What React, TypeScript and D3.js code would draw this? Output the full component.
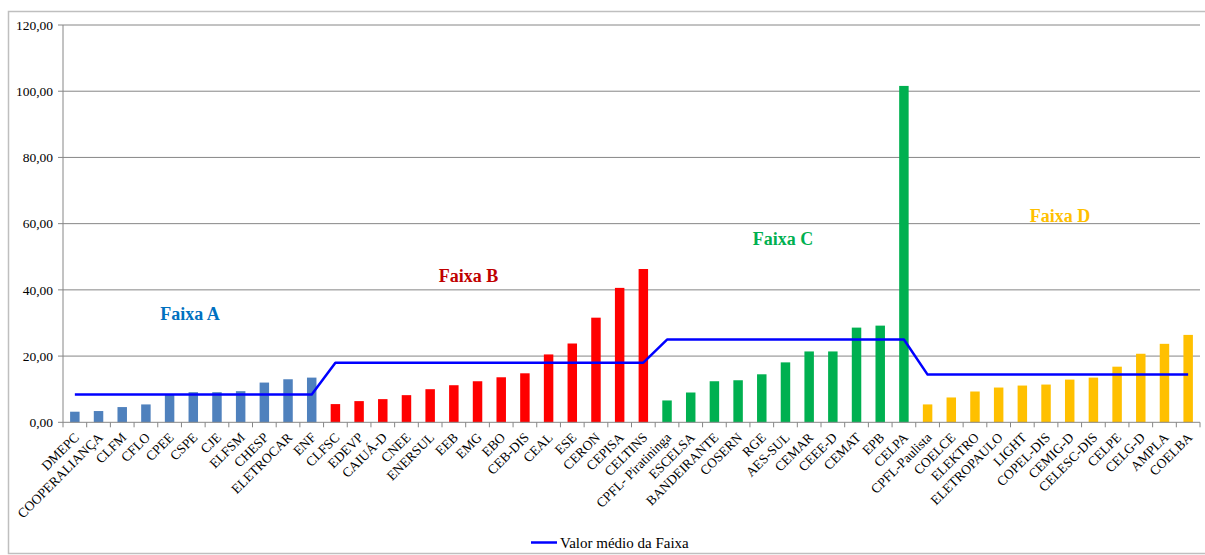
import React from "react";
import * as d3 from "d3";

// Distribuidoras por faixa
const faixaA = ["DMEPC", "COOPERALIANÇA", "CLFM", "CFLO", "CPEE", "CSPE", "CJE", "ELFSM", "CHESP", "ELETROCAR", "ENF"];
const valoresA = [3.2, 3.4, 4.6, 5.4, 8.5, 9.1, 9.1, 9.4, 12.0, 13.0, 13.5];

const faixaB = ["CLFSC", "EDEVP", "CAIUÁ-D", "CNEE", "ENERSUL", "EEB", "EMG", "EBO", "CEB-DIS", "CEAL", "ESE", "CERON", "CEPISA", "CELTINS"];
const valoresB = [5.5, 6.4, 7.0, 8.2, 10.0, 11.2, 12.4, 13.6, 14.8, 20.5, 23.8, 31.6, 40.6, 46.3];

const faixaC = ["CPFL- Piratininga", "ESCELSA", "BANDEIRANTE", "COSERN", "RGE", "AES-SUL", "CEMAR", "CEEE-D", "CEMAT", "EPB", "CELPA"];
const valoresC = [6.6, 9.0, 12.4, 12.7, 14.5, 18.1, 21.4, 21.4, 28.6, 29.2, 101.6];

const faixaD = ["CPFL-Paulista", "COELCE", "ELEKTRO", "ELETROPAULO", "LIGHT", "COPEL-DIS", "CEMIG-D", "CELESC-DIS", "CELPE", "CELG-D", "AMPLA", "COELBA"];
const valoresD = [5.4, 7.5, 9.3, 10.5, 11.1, 11.4, 12.9, 13.5, 16.8, 20.7, 23.7, 26.4];

// Valor médio de cada faixa
const mediasFaixa = [8.4, 18.0, 25.0, 14.4];
const nomesFaixa = ["Faixa A", "Faixa B", "Faixa C", "Faixa D"];
const yTicks = [0, 20, 40, 60, 80, 100, 120];

const coresBarra = ["#4F81BD", "#FF0000", "#00B050", "#FFC000"];
const coresTexto = ["#0070C0", "#C00000", "#00B050", "#FFC000"];

const FONT = "'Liberation Serif', 'Times New Roman', serif";

export default function App() {
  const grupos = [
    { nomes: faixaA, valores: valoresA },
    { nomes: faixaB, valores: valoresB },
    { nomes: faixaC, valores: valoresC },
    { nomes: faixaD, valores: valoresD },
  ];

  const linhas = grupos.flatMap((g, gi) =>
    g.nomes.map((nome, i) => ({ nome, valor: g.valores[i], faixa: gi, media: mediasFaixa[gi] }))
  );

  const left = 63;
  const right = 1200;
  const top = 25;
  const bottom = 422.3;

  const x = d3
    .scaleBand<string>()
    .domain(linhas.map((d) => d.nome))
    .range([left, right])
    .paddingInner(0.6)
    .paddingOuter(0.3);

  const y = d3.scaleLinear().domain([0, 120]).range([bottom, top]);

  const cx = (nome: string) => (x(nome) as number) + x.bandwidth() / 2;
  const step = x.step();

  const linha = d3
    .line<(typeof linhas)[number]>()
    .x((d) => cx(d.nome))
    .y((d) => y(d.media));

  const fmt = (v: number) => v.toFixed(2).replace(".", ",");

  // Posição dos rótulos de faixa (centro x, valor no eixo y)
  const rotulosFaixa = [
    { x: 190, v: 31.0 },
    { x: 468.5, v: 42.3 },
    { x: 783, v: 53.6 },
    { x: 1060, v: 60.5 },
  ];

  const txt = { fontFamily: FONT };

  return (
    <svg
      width={1205}
      height={555}
      style={{ position: "absolute", left: 0, top: 0, background: "#fff", fontFamily: FONT }}
    >
      <rect x={8.5} y={11.5} width={1205} height={542} fill="#fff" stroke="#BFBFBF" strokeWidth={1.5} />

      {/* grade horizontal */}
      {yTicks.map((t) => (
        <g key={t}>
          {t > 0 && (
            <line x1={left} x2={right} y1={y(t)} y2={y(t)} stroke="#868686" strokeWidth={1} />
          )}
          <line x1={left - 5} x2={left} y1={y(t)} y2={y(t)} stroke="#868686" />
          <text x={53} y={y(t)} dy="0.35em" textAnchor="end" fontSize={13.5} fill="#000" style={txt}>
            {fmt(t)}
          </text>
        </g>
      ))}

      {/* barras */}
      {linhas.map((d) => (
        <rect
          key={d.nome}
          x={x(d.nome)}
          y={y(d.valor)}
          width={x.bandwidth()}
          height={bottom - y(d.valor)}
          fill={coresBarra[d.faixa]}
        />
      ))}

      {/* eixos */}
      <line x1={left} x2={left} y1={top} y2={bottom} stroke="#868686" />
      <line x1={left} x2={right} y1={bottom} y2={bottom} stroke="#868686" />
      {d3.range(linhas.length + 1).map((i) => (
        <line
          key={i}
          x1={left + i * step}
          x2={left + i * step}
          y1={bottom}
          y2={bottom + 5}
          stroke="#868686"
        />
      ))}

      {/* valor médio da faixa */}
      <path d={linha(linhas) || ""} fill="none" stroke="#0000FF" strokeWidth={2.5} strokeLinejoin="round" />

      {/* rótulos das categorias */}
      {linhas.map((d) => (
        <text
          key={d.nome}
          transform={`translate(${cx(d.nome) + 5},${bottom + 16}) rotate(-45)`}
          textAnchor="end"
          fontSize={13.5}
          fill="#000"
          style={txt}
        >
          {d.nome}
        </text>
      ))}

      {/* nomes das faixas */}
      {nomesFaixa.map((n, i) => (
        <text
          key={n}
          x={rotulosFaixa[i].x}
          y={y(rotulosFaixa[i].v)}
          textAnchor="middle"
          fontSize={18}
          fontWeight="bold"
          fill={coresTexto[i]}
          style={txt}
        >
          {n}
        </text>
      ))}

      {/* legenda */}
      <line x1={531} x2={557} y1={542.5} y2={542.5} stroke="#0000FF" strokeWidth={2.5} />
      <text x={560} y={542.5} dy="0.35em" fontSize={15} fill="#000" style={txt}>
        Valor médio da Faixa
      </text>
    </svg>
  );
}
